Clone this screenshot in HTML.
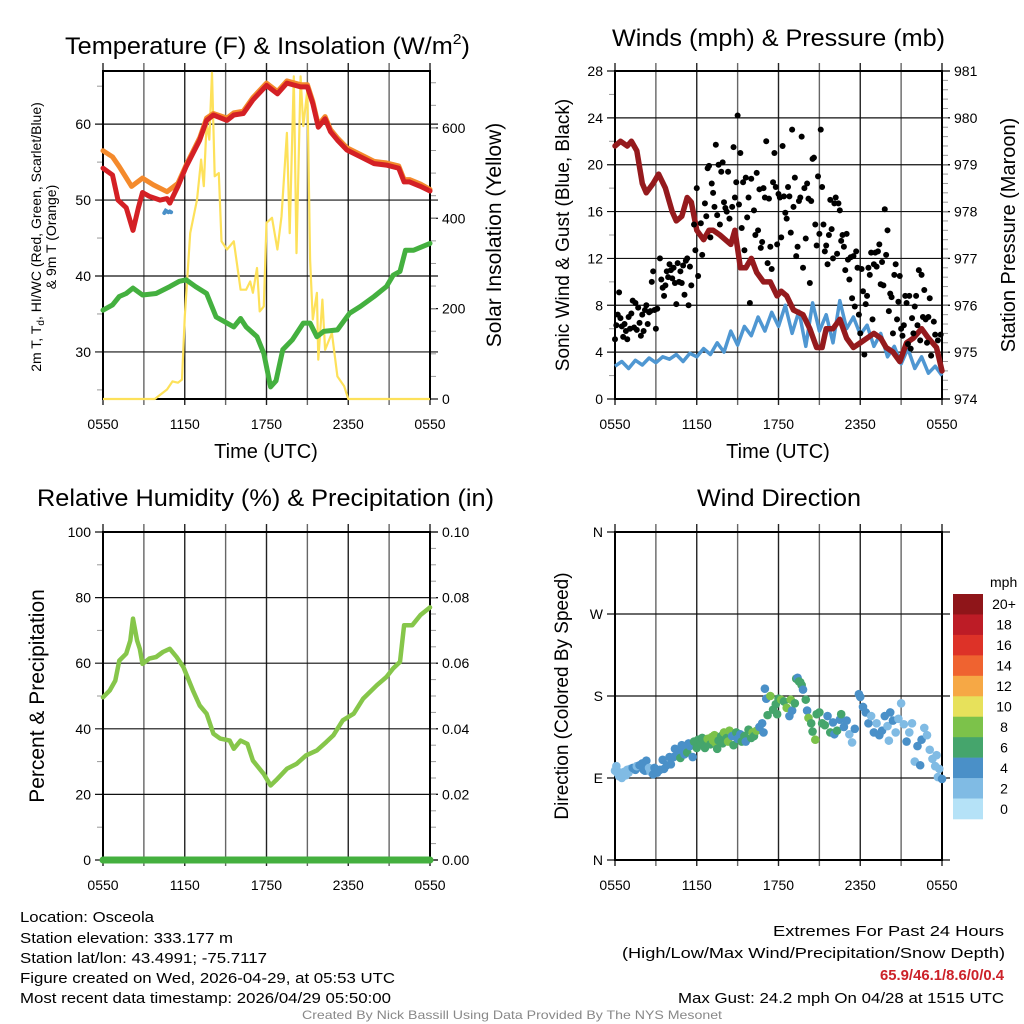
<!DOCTYPE html>
<html><head><meta charset="utf-8"><style>
html,body{margin:0;padding:0;background:#fff}
svg{display:block;font-family:"Liberation Sans",sans-serif}
</style></head><body>
<svg id="c" width="1024" height="1024" viewBox="0 0 1024 1024" xmlns="http://www.w3.org/2000/svg">
<rect width="1024" height="1024" fill="#fff"/>
<g id="g"></g>
<!-- titles -->
<text x="65" y="54" font-size="24" textLength="405" lengthAdjust="spacingAndGlyphs">Temperature (F) &amp; Insolation (W/m<tspan dy="-10" font-size="15">2</tspan><tspan dy="10">)</tspan></text>
<text x="612" y="46" font-size="24" textLength="333" lengthAdjust="spacingAndGlyphs">Winds (mph) &amp; Pressure (mb)</text>
<text x="37" y="506" font-size="24" textLength="457" lengthAdjust="spacingAndGlyphs">Relative Humidity (%) &amp; Precipitation (in)</text>
<text x="697" y="506" font-size="24" textLength="164" lengthAdjust="spacingAndGlyphs">Wind Direction</text>
<!-- axis titles -->
<text x="266" y="458" font-size="20" text-anchor="middle">Time (UTC)</text>
<text x="778" y="458" font-size="20" text-anchor="middle">Time (UTC)</text>
<text transform="translate(41,237) rotate(-90)" font-size="14" text-anchor="middle">2m T, T<tspan dy="3" font-size="10">d</tspan><tspan dy="-3">, HI/WC (Red, Green, Scarlet/Blue)</tspan></text>
<text transform="translate(56,237) rotate(-90)" font-size="14" text-anchor="middle">&amp; 9m T (Orange)</text>
<text transform="translate(501,235) rotate(-90)" font-size="21" text-anchor="middle">Solar Insolation (Yellow)</text>
<text transform="translate(569,235) rotate(-90)" font-size="19" text-anchor="middle">Sonic Wind &amp; Gust (Blue, Black)</text>
<text transform="translate(1015,235) rotate(-90)" font-size="20" text-anchor="middle">Station Pressure (Maroon)</text>
<text transform="translate(44,696) rotate(-90)" font-size="21" text-anchor="middle">Percent &amp; Precipitation</text>
<text transform="translate(568,696) rotate(-90)" font-size="19" text-anchor="middle">Direction (Colored By Speed)</text>
<!-- footer -->
<g font-size="15">
<text x="20" y="922" textLength="134" lengthAdjust="spacingAndGlyphs">Location: Osceola</text>
<text x="20" y="943" textLength="213" lengthAdjust="spacingAndGlyphs">Station elevation: 333.177 m</text>
<text x="20" y="963" textLength="247" lengthAdjust="spacingAndGlyphs">Station lat/lon: 43.4991; -75.7117</text>
<text x="20" y="983" textLength="375" lengthAdjust="spacingAndGlyphs">Figure created on Wed, 2026-04-29, at 05:53 UTC</text>
<text x="20" y="1003" textLength="371" lengthAdjust="spacingAndGlyphs">Most recent data timestamp: 2026/04/29 05:50:00</text>
</g>
<g font-size="15">
<text x="773" y="936" textLength="231" lengthAdjust="spacingAndGlyphs">Extremes For Past 24 Hours</text>
<text x="622" y="958" textLength="383" lengthAdjust="spacingAndGlyphs">(High/Low/Max Wind/Precipitation/Snow Depth)</text>
<text x="880" y="980" textLength="124" lengthAdjust="spacingAndGlyphs" fill="#cc2229" font-weight="bold">65.9/46.1/8.6/0/0.4</text>
<text x="678" y="1003" textLength="326" lengthAdjust="spacingAndGlyphs">Max Gust: 24.2 mph On 04/28 at 1515 UTC</text>
</g>
<text x="302" y="1019" font-size="12" fill="#888" textLength="420" lengthAdjust="spacingAndGlyphs">Created By Nick Bassill Using Data Provided By The NYS Mesonet</text>
</svg>
<script>
// ---------- data ----------
const timeTicks = ["0550","1150","1750","2350","0550"];
const tempHours = [0,0.7,1.1,1.7,2.2,2.6,2.9,3.4,4.2,4.7,4.9,5.5,6.1,7.1,7.6,8.1,9.1,9.6,10.3,11,12,12.8,13.5,14.5,15,15.4,15.8,16.3,16.7,17.2,17.9,18.9,19.9,20.8,21.7,22.1,22.5,23.3,24];
const tempT = [54.2,53.3,50,49,46,49,51,50.5,50,50.2,49.6,51.8,54.4,57.9,60.5,61.2,60.5,61.2,61.4,63.2,65.1,64,65.4,64.9,64.9,62.7,59.6,60.7,59,57.9,56.6,55.7,54.8,54.6,54.2,52.4,52.4,51.8,51.2];
const tempT9Hours = [0,0.7,1.2,2.1,2.9,3.7,4.7,5.5,6.1,7.1,7.6,8.1,9.1,9.6,10.3,11,12,12.8,13.5,14.5,15,15.4,15.8,16.3,16.7,17.2,17.9,18.9,19.9,20.8,21.7,22.1,22.5,23.3,24];
const tempT9 = [56.5,55.7,54.4,51.8,52.9,52,51.1,52.2,54.6,58.2,60.8,61.4,60.8,61.5,61.7,63.5,65.4,64.3,65.7,65.2,65.2,63,59.9,61,59.3,58.2,56.9,56,55.1,54.9,54.5,52.7,52.7,52.1,51.4];
const hiwcHours = [4.5,4.6,4.7,4.8,4.9,5.0];
const hiwc = [48.3,48.6,48.5,48.4,48.5,48.4];
const tdHours = [0,0.7,1.2,1.7,2.2,2.9,3.9,4.9,5.6,6.1,6.8,7.6,8.3,9.1,9.6,10.1,10.5,11.3,11.8,12.3,12.7,13.2,13.9,14.7,15.2,15.7,16.2,17.2,18.1,18.9,19.9,20.8,21.3,21.8,22.2,22.8,24];
const tdVals = [35.5,36.2,37.3,37.7,38.4,37.5,37.7,38.6,39.3,39.5,38.6,37.7,34.6,33.8,33.3,34.4,33.3,32,29.8,25.4,26.2,30.3,31.6,33.8,33.8,32,32.7,32.9,35.1,36,37.3,38.6,40.1,40.6,43.4,43.4,44.3];
const solarHours = [0,3.8,4.7,5.1,5.5,5.8,6.0,6.4,6.9,7.2,7.4,7.6,7.8,8.0,8.2,8.5,8.7,9.1,9.6,10.1,10.5,10.8,11,11.3,11.5,11.8,12,12.4,12.8,13.1,13.5,13.7,14,14.2,14.5,14.7,15,15.2,15.4,15.7,15.8,16.1,16.3,16.8,17.2,17.7,18,24];
const solarVals = [0,0,21,39,36,43,183,367,441,530,471,611,574,722,493,500,349,331,349,242,242,260,235,290,194,205,390,401,331,404,589,367,714,323,714,604,685,308,176,235,87,220,109,146,50,28,0,0];
const presHours = [0,0.4,0.9,1.2,1.6,2.0,2.3,2.8,3.2,3.7,4.2,4.5,4.9,5.3,5.6,6.0,6.5,6.9,7.2,7.7,8.5,8.8,9.2,9.6,10.0,10.4,10.9,11.4,11.9,12.2,12.6,13.1,13.8,14.3,14.8,15.2,15.5,16.0,16.5,17.0,17.5,18.0,18.5,19.0,19.5,19.9,20.4,20.9,21.4,21.9,22.5,23.0,23.6,24];
const presVals = [979.4,979.5,979.4,979.5,979.3,978.6,978.4,978.6,978.8,978.5,978.0,977.8,977.9,978.3,978.2,977.6,977.4,977.6,977.6,977.5,977.3,977.6,976.8,976.8,977.0,976.7,976.5,976.5,976.2,976.3,976.2,975.9,975.8,975.5,975.1,975.1,975.5,975.5,975.7,975.3,975.1,975.2,975.3,975.4,975.3,975.1,975.0,974.8,975.2,975.3,975.5,975.3,975.1,974.6];
const windVals = [2.8,3.2,2.6,3.3,2.9,3.5,3.1,3.6,3.4,3.8,3.2,3.9,3.6,4.3,3.8,4.8,4.0,5.8,4.6,6.2,5.4,7.0,5.8,7.4,6.2,8.0,5.6,7.5,4.5,8.2,5.8,7.2,4.8,8.4,6.0,7.0,5.5,6.3,4.5,5.6,3.6,4.5,3.0,4.3,2.6,3.6,2.2,2.8,2.0];
const gustHours = [0,0.1,0.2,0.3,0.4,0.5,0.6,0.7,0.8,0.9,1.0,1.1,1.2,1.3,1.4,1.5,1.6,1.7,1.8,1.9,2.0,2.1,2.2,2.3,2.4,2.5,2.6,2.7,2.8,2.9,3.0,3.1,3.3,3.4,3.5,3.6,3.7,3.8,3.9,4.0,4.1,4.2,4.3,4.4,4.5,4.6,4.7,4.8,4.9,5.0,5.1,5.2,5.3,5.4,5.5,5.6,5.8,5.9,6.0,6.1,6.3,6.4,6.6,6.7,6.8,6.9,7.0,7.1,7.2,7.3,7.4,7.5,7.6,7.7,7.8,7.9,8.0,8.1,8.2,8.3,8.4,8.6,8.7,8.8,8.9,9.0,9.1,9.2,9.3,9.4,9.5,9.6,9.7,9.8,9.9,10.0,10.2,10.3,10.4,10.5,10.6,10.7,10.8,10.9,11.0,11.1,11.2,11.3,11.4,11.5,11.6,11.7,11.8,11.9,12.0,12.1,12.2,12.3,12.4,12.5,12.6,12.7,12.8,12.9,13.0,13.1,13.2,13.3,13.4,13.5,13.6,13.7,13.8,13.9,14.0,14.1,14.2,14.3,14.4,14.5,14.6,14.7,14.8,14.9,15.0,15.1,15.2,15.3,15.4,15.5,15.6,15.7,15.8,15.9,16.0,16.1,16.2,16.3,16.4,16.5,16.6,16.7,16.8,16.9,17.0,17.1,17.2,17.3,17.4,17.5,17.6,17.7,17.8,17.9,18.0,18.1,18.2,18.3,18.4,18.5,18.6,18.7,18.8,18.9,19.0,19.1,19.2,19.3,19.4,19.5,19.6,19.7,19.8,19.9,20.0,20.1,20.2,20.3,20.4,20.5,20.6,20.7,20.8,20.9,21.0,21.1,21.2,21.3,21.4,21.5,21.6,21.7,21.8,21.9,22.0,22.1,22.2,22.3,22.4,22.5,22.6,22.7,22.8,22.9,23.0,23.1,23.2,23.4,23.5,23.7,23.9];
const gustVals = [5.1,6.3,7.2,9.1,6.9,6.2,5.3,6.4,5.8,5.1,7.0,6.0,7.3,8.4,6.1,8.2,5.9,7.8,6.5,5.4,7.2,5.8,7.6,8.0,6.4,7.4,7.5,10.0,10.9,7.6,6.0,7.7,12.0,10.2,9.5,8.8,9.7,10.9,10.4,11.5,11.0,10.3,11.2,9.9,8.1,11.6,10.0,10.9,9.9,11.4,8.9,11.8,12.0,8.0,11.3,9.7,14.9,12.7,18.0,10.5,15.0,12.3,16.7,15.6,19.7,19.9,13.8,18.4,17.6,16.4,21.7,15.7,20.0,14.9,19.4,20.2,16.8,16.3,16.0,19.4,15.4,16.4,21.5,17.2,18.5,24.2,16.6,21.0,14.6,18.5,12.7,18.9,15.5,17.2,8.2,18.8,16.1,14.0,19.3,14.4,17.9,12.9,13.4,18.0,17.2,22.0,11.6,17.1,13.0,11.1,18.5,21.0,18.1,13.2,17.5,17.2,13.8,21.6,17.3,15.9,15.4,18.1,17.3,14.2,23.0,16.4,18.9,12.2,13.0,16.9,17.2,22.4,11.2,18.0,13.7,18.4,17.1,9.9,16.9,20.5,20.6,14.9,13.1,19.0,14.1,23.0,18.1,14.9,12.6,13.1,11.5,14.0,17.0,14.5,12.0,16.7,17.2,12.4,16.7,16.1,13.5,14.0,13.0,11.0,14.1,11.9,10.2,12.1,8.6,12.2,7.9,12.6,11.2,7.2,5.6,11.1,9.2,3.8,8.1,8.8,11.2,10.6,12.5,6.8,11.5,12.5,11.3,12.6,13.2,9.8,11.7,9.7,16.2,12.3,14.4,7.5,9.0,8.7,5.6,10.6,11.5,6.8,8.3,10.5,6.0,5.4,6.3,8.8,8.2,4.7,8.8,4.3,6.9,5.6,7.9,8.8,6.3,11.0,5.0,10.6,7.0,9.3,6.8,4.8,7.0,8.6,3.7,6.6,5.5,5.0,5.5];
const rhHours = [0,0.5,0.9,1.2,1.7,2.0,2.2,2.5,2.7,2.9,3.4,3.9,4.4,4.9,5.4,5.9,6.6,7.1,7.6,8.1,8.6,9.3,9.6,10.1,10.6,11.0,11.8,12.3,12.7,13.5,14.2,14.9,15.7,16.4,16.9,17.6,18.4,19.1,20.1,20.8,21.3,21.8,22.1,22.7,23.3,24];
const rhVals = [49.6,51.7,54.7,60.8,62.9,66.9,73.6,66.9,64.4,59.8,61.4,61.9,63.4,64.4,61.9,58.8,51.7,47.1,44.6,38.5,37,36.4,33.9,36.4,35.4,30.3,26.2,22.7,24.3,27.8,29.3,31.9,33.4,36,38,42.6,44.6,49.2,53.3,55.8,58.4,60.4,71.6,71.6,74.7,77];
const precipVals = [0,0];
const wdHours = [0,0.1,0.2,0.3,0.4,0.5,0.6,0.7,0.8,0.9,1.0,1.1,1.3,1.5,1.6,1.8,2.0,2.1,2.2,2.3,2.5,2.6,2.8,2.9,3.1,3.3,3.5,3.6,3.8,4.0,4.1,4.3,4.4,4.6,4.8,4.9,5.0,5.1,5.3,5.4,5.5,5.7,5.8,6.0,6.1,6.3,6.4,6.6,6.7,6.8,7.0,7.1,7.2,7.3,7.4,7.5,7.6,7.8,7.9,8.0,8.2,8.3,8.4,8.6,8.7,8.9,9.0,9.2,9.3,9.5,9.6,9.8,10.0,10.1,10.2,10.4,10.6,10.8,10.9,11.0,11.1,11.2,11.4,11.6,11.8,11.9,12.0,12.2,12.4,12.6,12.8,12.9,13.0,13.2,13.3,13.4,13.5,13.6,13.7,13.8,14.0,14.1,14.2,14.4,14.5,14.7,14.8,15.0,15.2,15.4,15.6,15.8,16.0,16.1,16.3,16.5,16.6,16.8,17.0,17.2,17.4,17.6,17.9,18.0,18.2,18.4,18.6,18.8,19.0,19.2,19.4,19.6,19.8,20.0,20.1,20.2,20.4,20.6,20.8,21.0,21.2,21.4,21.6,21.8,22.0,22.2,22.4,22.5,22.7,22.9,23.1,23.3,23.5,23.6,23.7,23.8,24];
const wdDir = [98,103,95,92,96,90,94,97,93,99,96,100,101,99,103,104,106,99,98,109,101,97,94,101,96,99,110,100,104,113,105,113,122,117,112,126,121,116,118,128,125,113,130,123,132,128,134,123,131,133,127,135,131,137,128,122,131,136,128,140,134,130,142,136,126,140,133,138,130,136,130,143,134,140,136,142,146,150,140,188,177,159,180,165,171,160,177,176,174,167,158,176,164,172,199,200,196,195,192,187,176,164,156,150,141,132,160,162,150,148,158,140,151,138,142,154,160,146,153,138,129,144,182,179,168,162,150,158,140,150,137,142,158,147,131,162,153,140,155,172,149,130,140,150,108,125,104,132,145,137,121,111,103,115,91,100,89];
const wdSpd = [2,2,1,2,2,2,1,2,2,2,2,2,4,4,2,3,4,3,4,3,2,2,3,3,4,4,3,4,4,3,4,4,4,4,6,3,4,4,6,4,4,4,6,5,6,5,6,6,6,7,6,7,8,7,8,6,6,6,5,8,5,7,8,4,6,6,4,4,6,5,4,6,6,7,6,8,4,3,4,4,4,5,7,6,6,5,6,7,6,8,4,8,4,6,6,4,6,6,6,4,6,4,7,6,6,8,6,6,6,6,4,6,4,4,6,4,6,4,3,2,2,4,4,4,4,4,4,2,4,2,4,3,4,2,2,4,3,2,2,2,2,4,2,2,2,4,3,4,1,2,2,2,2,2,2,2,3];
const speedLabels = ["20+","18","16","14","12","10","8","6","4","2","0"];
const speedColors = ["#b5e2f7","#80bbe4","#4a90c8","#45a56c","#7cc24a","#e7e15b","#f6a845","#ef6330","#dd3228","#bd1c26","#8f1519"];
const dirLabels = ["N","W","S","E","N"];

// ---------- helpers ----------
const NS="http://www.w3.org/2000/svg";
const G=document.getElementById('g');
function mk(tag,attrs,parent){const e=document.createElementNS(NS,tag);for(const k in attrs)e.setAttribute(k,attrs[k]);(parent||G).appendChild(e);return e;}
function txt(x,y,s,size,anchor,parent){const t=mk('text',{x:x,y:y,'font-size':size,'text-anchor':anchor||'middle'},parent);t.textContent=s;return t;}
const PW=327,PH=328;
function xs(x0){return h=>x0+h/24*PW;}
function ys(y0,lo,hi){return v=>y0+PH-(v-lo)/(hi-lo)*PH;}
function linePath(hs,vs,X,Y){return hs.map((h,i)=>(i?'L':'M')+X(h).toFixed(1)+','+Y(vs[i]).toFixed(1)).join('');}

function frame(name,x0,y0,left,right){
  const g=mk('g',{});
  
  
  const X=xs(x0);
  for(let k=0;k<=8;k++){
    const x=X(k*3);
    const l=mk('line',{x1:x,x2:x,y1:y0-8,y2:y0+PH+6,stroke:k%2?'#666':'#222','stroke-width':1.4},g);
    
    
  }
  timeTicks.forEach((s,i)=>{const t=txt(X(i*6),y0+PH+30,s,14,'middle',g);
    
    });
  left.vals.forEach((v,i)=>{const y=left.Y(v);
    const l=mk('line',{x1:x0-8,x2:x0+PW+8,y1:y,y2:y,stroke:'#111','stroke-width':1.2},g);
    
    
    const t=txt(x0-12,y+5,left.labels[i],14,'end',g);
    
    });
  (left.minor||[]).forEach(v=>{const y=left.Y(v);mk('line',{x1:x0-6,x2:x0,y1:y,y2:y,stroke:'#999','stroke-width':1},g);});
  if(right){
    right.vals.forEach((v,i)=>{const y=right.Y(v);
      mk('line',{x1:x0+PW,x2:x0+PW+8,y1:y,y2:y,stroke:'#111','stroke-width':1.2},g);
      const t=txt(x0+PW+12,y+5,right.labels[i],14,'start',g);
      
      });
    (right.minor||[]).forEach(v=>{const y=right.Y(v);mk('line',{x1:x0+PW,x2:x0+PW+6,y1:y,y2:y,stroke:'#999','stroke-width':1},g);});
  }
  const b=mk('rect',{x:x0,y:y0,width:PW,height:PH,fill:'none',stroke:'#000','stroke-width':2},g);
  
  
  return X;
}
function range(a,b,s){const r=[];for(let v=a;v<=b+1e-9;v+=s)r.push(+v.toFixed(4));return r;}

// ---------- panel 1: temperature ----------
{
  const x0=103,y0=71;
  const YT=ys(y0,23.8,67.0), YS=ys(y0,0,726);
  const X=frame('temperature',x0,y0,{Y:YT,vals:[30,40,50,60],labels:["30","40","50","60"],minor:[25,35,45,55,65]},
    {Y:YS,vals:[0,200,400,600],labels:["0","200","400","600"],minor:range(50,700,50)});
  const s=mk('path',{d:linePath(solarHours,solarVals,X,YS),fill:'none',stroke:'#fde15a','stroke-width':2.2,'stroke-linejoin':'round'});
  
  
  const d=mk('path',{d:linePath(tdHours,tdVals,X,YT),fill:'none',stroke:'#44b03f','stroke-width':5,'stroke-linejoin':'round','stroke-linecap':'round'});
  
  
  const o=mk('path',{d:linePath(tempT9Hours,tempT9,X,YT),fill:'none',stroke:'#f48a2c','stroke-width':5,'stroke-linejoin':'round','stroke-linecap':'round'});
  
  
  const r=mk('path',{d:linePath(tempHours,tempT,X,YT),fill:'none',stroke:'#d42025','stroke-width':5,'stroke-linejoin':'round','stroke-linecap':'round'});
  
  
  const w=mk('path',{d:linePath(hiwcHours,hiwc,X,YT),fill:'none',stroke:'#4a90c8','stroke-width':4,'stroke-linecap':'round'});
  
  
}
// ---------- panel 2: winds ----------
{
  const x0=615,y0=71;
  const YW=ys(y0,0,28), YP=ys(y0,974,981);
  const X=frame('winds',x0,y0,{Y:YW,vals:range(0,28,4),labels:range(0,28,4).map(String),minor:range(2,26,4)},
    {Y:YP,vals:range(974,981,1),labels:range(974,981,1).map(String),minor:range(974.2,980.8,0.2)});
  const wh=windVals.map((v,i)=>i*24/(windVals.length-1));
  const b=mk('path',{d:linePath(wh,windVals,X,YW),fill:'none',stroke:'#4f97d2','stroke-width':3.5,'stroke-linejoin':'round'});
  
  
  const p=mk('path',{d:linePath(presHours,presVals,X,YP),fill:'none',stroke:'#951a1d','stroke-width':5.5,'stroke-linejoin':'round','stroke-linecap':'round'});
  
  
  gustHours.forEach((h,i)=>{
    const c=mk('circle',{cx:X(h),cy:YW(gustVals[i]),r:3,fill:'#000'});
    
    
  });
}
// ---------- panel 3: humidity ----------
{
  const x0=103,y0=532;
  const YR=ys(y0,0,100), YQ=ys(y0,0,0.1);
  const X=frame('humidity',x0,y0,{Y:YR,vals:range(0,100,20),labels:range(0,100,20).map(String),minor:range(10,90,20)},
    {Y:YQ,vals:range(0,0.1,0.02),labels:["0.00","0.02","0.04","0.06","0.08","0.10"],minor:range(0.005,0.095,0.005)});
  const rh=mk('path',{d:linePath(rhHours,rhVals,X,YR),fill:'none',stroke:'#86c64a','stroke-width':4.5,'stroke-linejoin':'round','stroke-linecap':'round'});
  
  
  const pr=mk('path',{d:linePath([0,24],precipVals,X,YQ),fill:'none',stroke:'#44b03f','stroke-width':7,'stroke-linecap':'round'});
  
  
}
// ---------- panel 4: wind direction ----------
{
  const x0=615,y0=532;
  const YD=ys(y0,0,360);
  const X=frame('wind-direction',x0,y0,{Y:YD,vals:[360,270,180,90,0],labels:dirLabels},null);
  const col=s=>speedColors[Math.min(10,Math.round(s/2))];
  wdHours.forEach((h,i)=>{
    const c=mk('circle',{cx:X(h),cy:YD(wdDir[i]),r:4.3,fill:col(wdSpd[i])});
    
    
  });
  const cb=mk('g',{});
  
  
  const t=txt(990,587,"mph",14,'start',cb);
  
  
  const bh=225/11;
  speedLabels.forEach((lab,i)=>{
    const y=594+i*bh;
    const r=mk('rect',{x:953,y:y,width:30,height:bh+0.3,fill:speedColors[10-i]},cb);
    
    
    const l=txt(1004,y+bh/2+5,lab,14,'middle',cb);
    
    
  });
}
</script>
</body></html>
